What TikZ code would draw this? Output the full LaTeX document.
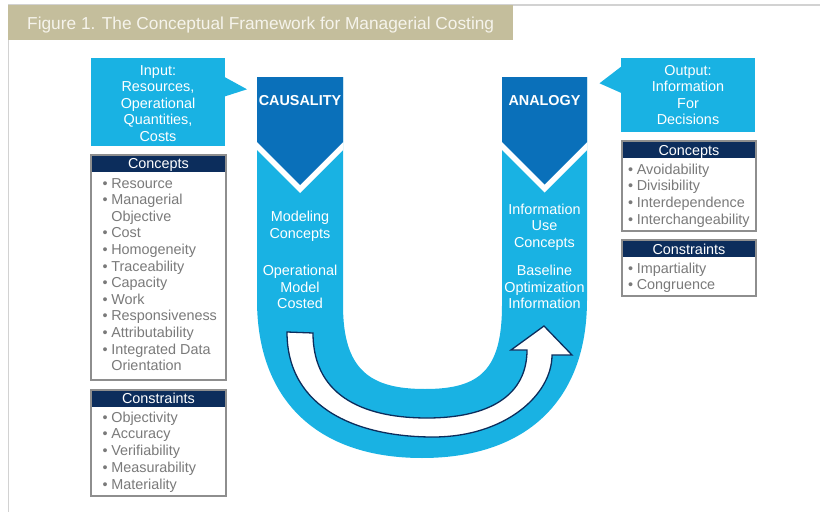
\documentclass[tikz,border=0pt]{standalone}
\usepackage{fontspec}
\setmainfont{Liberation Sans}
\definecolor{skyblue}{HTML}{19B2E3}
\definecolor{deepblue}{HTML}{0A70BA}
\definecolor{navy}{HTML}{0C2D5C}
\definecolor{tanbar}{HTML}{C4BE9C}
\definecolor{titletext}{HTML}{F6F4EC}
\definecolor{panelrule}{HTML}{8E8E8E}
\definecolor{itemgray}{HTML}{7A7A7A}
\definecolor{framegray}{HTML}{D2D2D2}
\newcommand{\bodysize}{\fontsize{14.4}{16.6}\selectfont}
\newcommand{\bul}[1]{\makebox[8.8pt][l]{\textbullet}#1}
\newcommand{\cont}[1]{\hspace*{8.8pt}#1}
\begin{document}
\begin{tikzpicture}[x=1pt,y=-1pt,
  txt/.style={font=\bodysize, inner sep=0pt, outer sep=0pt},
  coltext/.style={txt, text=white, align=center},
  colhead/.style={txt, text=white, font=\bodysize\bfseries, anchor=base},
  callbox/.style={txt, fill=skyblue, text=white, align=center},
  panel/.style={fill=white, anchor=north west, inner sep=0pt, outer sep=0pt},
  panelhead/.style={fill=navy, anchor=north west, inner sep=0pt, outer sep=0pt},
  panelframe/.style={draw=panelrule, line width=2pt},
  headtext/.style={txt, text=white, anchor=base},
  listline/.style={txt, text=itemgray, anchor=base west},
  flowarrow/.style={fill=white, draw=navy, line width=1.3pt, line join=miter}
]
\useasboundingbox (0,0) rectangle (820,514);

% page frame and title bar
\draw[framegray, line width=1.2pt] (8,5) -- (820,5);
\draw[framegray, line width=1pt] (8,5) -- (8,512);
\fill[tanbar] (8,5) rectangle (513,40);
\node[anchor=base west, inner sep=0pt, text=titletext,
      font=\fontsize{17.3}{20}\selectfont] (title) at (27,29)
  {Figure 1. The Conceptual Framework for Managerial Costing};

% the U band
\fill[skyblue] (257,77) -- (257,300)
  .. controls (257,400) and (317,458) .. (422,458)
  .. controls (527,458) and (587,400) .. (587,300)
  -- (587,77) -- (502,77) -- (502,305)
  .. controls (502,370) and (480,389) .. (425,389)
  .. controls (370,389) and (343,370) .. (343,305)
  -- (343,77) -- cycle;

% chevron heads of the two columns
\fill[white] (257,77) -- (343,77) -- (343,150) -- (300,193) -- (257,150) -- cycle;
\fill[deepblue] (257,77) -- (343,77) -- (343,142) -- (300,185) -- (257,142) -- cycle;
\fill[white] (502,77) -- (587,77) -- (587,150) -- (544.5,192.5) -- (502,150) -- cycle;
\fill[deepblue] (502,77) -- (587,77) -- (587,142) -- (544.5,184.5) -- (502,142) -- cycle;

\node[colhead] (causality) at (300,105) {CAUSALITY};
\node[colhead] (analogy) at (544.5,105) {ANALOGY};

\node[coltext] (modeling) at (300,226) {Modeling\\Concepts};
\node[coltext] (opmodel) at (300,287) {Operational\\Model\\Costed};
\node[coltext] (infouse) at (544.5,227) {Information\\Use\\Concepts};
\node[coltext] (baseline) at (544.5,287) {Baseline\\Optimization\\Information};

% curved flow arrow inside the U
\filldraw[flowarrow] (313,333) -- (287,332)
  .. controls (287,410) and (360,437) .. (433,437)
  .. controls (505,437) and (552,395) .. (552,355)
  -- (572,355) -- (544,326) -- (511,350) -- (527,350)
  .. controls (527,395) and (490,418) .. (427,418)
  .. controls (370,418) and (313,400) .. (313,333) -- cycle;

% input callout
\fill[skyblue] (91,58) rectangle (225,146);
\node[callbox] (input) at (158,103.5)
  {Input:\\Resources,\\Operational\\Quantities,\\Costs};
\fill[skyblue] (224,76.7) -- (247,89.3) -- (224,96.7) -- cycle;

% output callout
\fill[skyblue] (621,58) rectangle (755,132);
\node[callbox] (output) at (688,95)
  {Output:\\Information\\For\\Decisions};
\fill[skyblue] (622,66) -- (599.5,83.3) -- (622,93.3) -- cycle;

% left concepts panel
\node[panel, minimum width=135pt, minimum height=225pt] (lcbox) at (91,155) {};
\node[panelhead, minimum width=135pt, minimum height=17pt] (lchead) at (91,155) {};
\draw[panelframe] (lcbox.north west) rectangle (lcbox.south east);
\node[headtext] (lctitle) at (158.5,168.5) {Concepts};
\foreach \t [count=\i] in {\bul{Resource},\bul{Managerial},\cont{Objective},\bul{Cost},
  \bul{Homogeneity},\bul{Traceability},\bul{Capacity},\bul{Work},\bul{Responsiveness},
  \bul{Attributability},\bul{Integrated Data},\cont{Orientation}}
  \node[listline] (lc\i) at (102.5,188+16.6*\i-16.6) {\t};

% left constraints panel
\node[panel, minimum width=135pt, minimum height=106pt] (lkbox) at (91,390) {};
\node[panelhead, minimum width=135pt, minimum height=17pt] (lkhead) at (91,390) {};
\draw[panelframe] (lkbox.north west) rectangle (lkbox.south east);
\node[headtext] (lktitle) at (158.5,403) {Constraints};
\foreach \t [count=\i] in {\bul{Objectivity},\bul{Accuracy},\bul{Verifiability},
  \bul{Measurability},\bul{Materiality}}
  \node[listline] (lk\i) at (102.5,422+16.75*\i-16.75) {\t};

% right concepts panel
\node[panel, minimum width=134pt, minimum height=90pt] (rcbox) at (622,141) {};
\node[panelhead, minimum width=134pt, minimum height=17pt] (rchead) at (622,141) {};
\draw[panelframe] (rcbox.north west) rectangle (rcbox.south east);
\node[headtext] (rctitle) at (689,155) {Concepts};
\foreach \t [count=\i] in {\bul{Avoidability},\bul{Divisibility},\bul{Interdependence},
  \bul{Interchangeability}}
  \node[listline] (rc\i) at (628,174+16.7*\i-16.7) {\t};

% right constraints panel
\node[panel, minimum width=134pt, minimum height=56pt] (rkbox) at (622,240) {};
\node[panelhead, minimum width=134pt, minimum height=17pt] (rkhead) at (622,240) {};
\draw[panelframe] (rkbox.north west) rectangle (rkbox.south east);
\node[headtext] (rktitle) at (689,254) {Constraints};
\foreach \t [count=\i] in {\bul{Impartiality},\bul{Congruence}}
  \node[listline] (rk\i) at (628,273+16.7*\i-16.7) {\t};
\end{tikzpicture}
\end{document}
